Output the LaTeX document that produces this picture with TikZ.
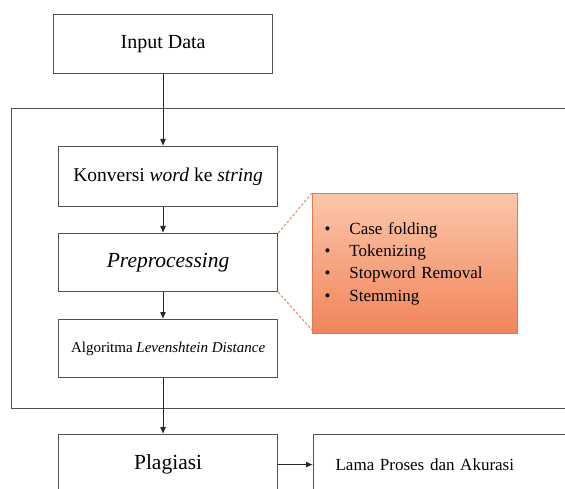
\documentclass[tikz,border=0pt]{standalone}
\usepackage{fontspec}
\setmainfont{Liberation Serif}[ItalicFont={Liberation Serif Italic},BoldFont={Liberation Serif Bold}]
\usetikzlibrary{arrows.meta}
\definecolor{boxline}{RGB}{80,80,80}
\definecolor{orTop}{RGB}{251,198,170}
\definecolor{orBot}{RGB}{241,132,90}
\definecolor{orLine}{RGB}{226,120,78}
\tikzset{
  flowbox/.style={draw=boxline, line width=1.2pt, inner sep=0pt, anchor=north west, minimum width=219pt},
  arr/.style={draw=black!85, line width=1pt, -{Latex[length=7pt,width=6pt]}},
  dashlink/.style={draw=orLine, line width=0.9pt, dash pattern=on 2.5pt off 2pt},
}
\begin{document}
\begin{tikzpicture}[x=1pt,y=-1pt]
\useasboundingbox (0,0) rectangle (565,489);
\clip (0,0) rectangle (565,489);
\fill[white] (0,0) rectangle (565,489);
% outer container
\node[draw=boxline, line width=1.2pt, anchor=north west, minimum width=600pt, minimum height=300pt, inner sep=0pt] (outer) at (11,108) {};
% boxes
\node[flowbox, minimum height=59pt, font=\fontsize{20}{24}\selectfont] (inp) at (53,14) {Input Data};
\node[flowbox, minimum height=60pt, font=\fontsize{19.5}{23}\selectfont] (konv) at (58,146) {Konversi \textit{word} ke \textit{string}};
\node[flowbox, minimum height=58pt, font=\fontsize{21.5}{25}\selectfont\itshape] (pre) at (58,233) {Preprocessing};
\node[flowbox, minimum height=58pt, font=\fontsize{15}{18}\selectfont] (algo) at (58,319) {Algoritma \textit{Levenshtein Distance}};
\node[flowbox, minimum height=60pt, font=\fontsize{21.5}{25}\selectfont] (plag) at (58,434) {Plagiasi};
\node[draw=boxline, line width=1.2pt, anchor=north west, minimum height=60pt, text width=226pt, inner xsep=22pt, inner ysep=0pt, align=left, font=\fontsize{17}{20}\selectfont] (lama) at (313,434) {\mbox{Lama Proses dan Akurasi}};
% orange box
\node[draw=orLine, line width=1pt, top color=orTop, bottom color=orBot, anchor=north west, minimum height=140pt, text width=181pt, inner xsep=12pt, inner ysep=0pt, align=left, font=\fontsize{17}{22.3}\selectfont] (steps) at (312,193)
{\makebox[25pt][l]{•}Case folding\\
 \makebox[25pt][l]{•}Tokenizing\\
 \makebox[25pt][l]{•}Stopword Removal\\
 \makebox[25pt][l]{•}Stemming};
% links
\draw[dashlink] (pre.north east) -- (steps.north west);
\draw[dashlink] (pre.south east) -- ([yshift=4pt]steps.south west);
% arrows
\coordinate (ax) at (163,0);
\draw[arr] (inp.south -| ax) -- (konv.north -| ax);
\draw[arr] (konv.south -| ax) -- (pre.north -| ax);
\draw[arr] (pre.south -| ax) -- (algo.north -| ax);
\draw[arr] (algo.south -| ax) -- (plag.north -| ax);
\draw[arr] (plag.east) -- (lama.west);
\end{tikzpicture}
\end{document}
